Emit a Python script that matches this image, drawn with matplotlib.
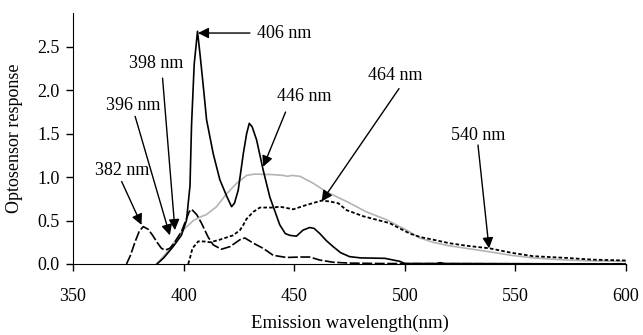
import matplotlib.pyplot as plt

plt.rcParams['font.family'] = ['Liberation Serif', 'DejaVu Serif']

# solid curve (406 / 446 nm peaks)
solid_x = [388, 391, 395.3, 399, 401.3, 402.9, 403.6, 404.8, 406.3, 407.5, 408.9,
           410.4, 413.4, 416.4, 419.5, 421.7, 423, 424.7, 427, 428.5, 429.7, 431,
           433, 436, 439, 443.5, 446, 448, 451, 454, 457, 459, 461.6, 464.5, 467.6,
           471, 475, 480, 491, 497.8, 500, 514, 516, 518, 600]
solid_y = [0, 0.07, 0.2, 0.33, 0.5, 0.9, 1.6, 2.3, 2.68, 2.4, 2.05,
           1.66, 1.27, 0.97, 0.78, 0.66, 0.7, 0.85, 1.27, 1.5, 1.62, 1.58,
           1.43, 1.08, 0.77, 0.45, 0.35, 0.33, 0.32, 0.39, 0.42, 0.41, 0.35, 0.27, 0.2,
           0.13, 0.085, 0.07, 0.065, 0.03, 0.005, 0.005, 0.015, 0.005, 0]

# long-dash curve (382 nm peak)
dash_x = [374.2, 376, 378, 380, 381.8, 384, 386, 388, 390, 391.6, 393.8, 396, 399,
          401, 402.5, 403.6, 405.9, 408.1, 411.1, 413.4, 417.1, 421, 425.5, 427.7,
          431.5, 436, 440.5, 446.5, 452.6, 457, 461.6, 467.6, 475, 490, 600]
dash_y = [0, 0.1, 0.25, 0.38, 0.43, 0.40, 0.33, 0.25, 0.18, 0.16, 0.18, 0.25, 0.37,
          0.5, 0.6, 0.63, 0.57, 0.47, 0.31, 0.22, 0.17, 0.2, 0.28, 0.3,
          0.24, 0.18, 0.10, 0.075, 0.08, 0.08, 0.045, 0.02, 0.01, 0.005, 0]

# grey curve
grey_x = [387.8, 392, 395, 398.4, 401, 404.4, 407.4, 410.4, 414.9, 419.5, 424, 428.5,
          432, 440, 445, 447, 449, 452.6, 455.6, 458.6, 464.6, 473.7, 482.7, 491.7,
          500.8, 506.8, 512.8, 520, 527.9, 538.4, 548, 558, 573, 585, 600]
grey_y = [0, 0.12, 0.22, 0.35, 0.42, 0.5, 0.54, 0.57, 0.66, 0.81, 0.93, 1.02,
          1.035, 1.03, 1.02, 1.01, 1.02, 1.01, 0.97, 0.93, 0.83, 0.72, 0.60, 0.51,
          0.39, 0.30, 0.25, 0.21, 0.18, 0.14, 0.10, 0.07, 0.045, 0.035, 0.03]

# short-dash curve (464 / 540 nm)
dot_x = [402.1, 403, 404, 406.6, 409, 412, 416.4, 422.4, 425.5, 427, 428.5, 431.5,
         434.5, 440.5, 443.5, 449.6, 455.6, 462.4, 466, 469.9, 473.7, 481.2, 487.2,
         493.2, 496.2, 502.3, 507, 512.8, 520, 527.9, 538.4, 548, 558, 573, 585, 600]
dot_y = [0, 0.08, 0.18, 0.26, 0.26, 0.25, 0.28, 0.33, 0.39, 0.45, 0.52, 0.60,
         0.65, 0.65, 0.66, 0.63, 0.68, 0.73, 0.72, 0.70, 0.62, 0.55, 0.51,
         0.47, 0.43, 0.35, 0.31, 0.28, 0.24, 0.21, 0.18, 0.13, 0.09, 0.07, 0.05, 0.04]

# annotations: label, text pos (left edge), arrow tail, arrow tip
labels = ['406 nm', '398 nm', '396 nm', '382 nm', '446 nm', '464 nm', '540 nm']
text_xy = [(433.1, 2.65), (375.3, 2.31), (364.9, 1.82), (360, 1.08),
           (442.2, 1.93), (483.3, 2.17), (521.1, 1.48)]
tail_xy = [(430, 2.66), (390.5, 2.14), (378.1, 1.70), (372, 0.95),
           (446.1, 1.75), (497.4, 2.02), (533.1, 1.37)]
tip_xy = [(406.5, 2.66), (396.1, 0.39), (393.8, 0.33), (381, 0.45),
          (436, 1.12), (462.4, 0.72), (538.1, 0.18)]

fig = plt.figure(figsize=(6.43, 3.35), dpi=100)
ax = fig.add_axes([0.1135, 0.212, 0.86, 0.749])

ax.plot(grey_x, grey_y, color='#b4b4b4', lw=1.2)
ax.plot(dot_x, dot_y, color='black', lw=1.3, linestyle=(0, (2, 1.2)))
ax.plot(dash_x, dash_y, color='black', lw=1.2, linestyle=(0, (6, 1.5)))
ax.plot(solid_x, solid_y, color='black', lw=1.2)

for lab, t, a, b in zip(labels, text_xy, tail_xy, tip_xy):
    ax.annotate('', xy=b, xytext=a,
                arrowprops=dict(arrowstyle='-|>', color='black', lw=1.0,
                                mutation_scale=16, shrinkA=0, shrinkB=0))
    ax.text(t[0], t[1], lab, fontsize=13, va='center', ha='left')

ax.set_xlim(350, 600)
ax.set_ylim(0, 2.89)
ax.set_xticks([350, 400, 450, 500, 550, 600])
ax.set_yticks([0, 0.5, 1.0, 1.5, 2.0, 2.5])
ax.set_yticklabels(['0.0', '0.5', '1.0', '1.5', '2.0', '2.5'])
ax.tick_params(direction='out', length=5, width=1, labelsize=13, color='black')
ax.tick_params(axis='x', pad=12)
ax.tick_params(axis='y', pad=4.5)
ax.spines['top'].set_visible(False)
ax.spines['right'].set_visible(False)
ax.set_xlabel('Emission wavelength(nm)', fontsize=13.5, labelpad=7)
ax.set_ylabel('Optosensor response', fontsize=13)
ax.yaxis.set_label_coords(-0.0895, 0.5)

fig.savefig('out.png', dpi=100)
